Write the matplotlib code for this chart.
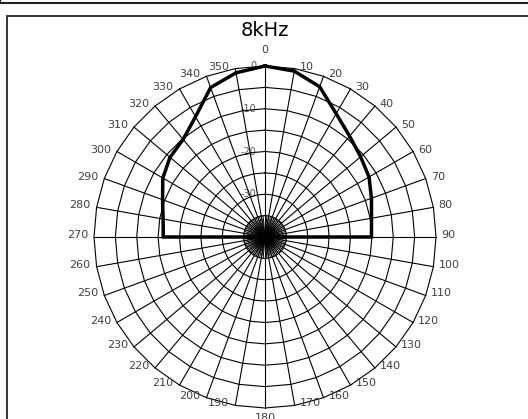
import numpy as np
import matplotlib
matplotlib.use('Agg')
import matplotlib.pyplot as plt
from matplotlib.patches import Rectangle

# directivity at 8kHz, dB, every 10 degrees (0 = front)
angles = list(range(0, 360, 10))
levels = [0, -0.6, -2.6, -6.7, -9.2, -10.8, -11.9, -13.5, -14.7, -15.1,
          -40, -40, -40, -40, -40, -40, -40, -40, -40,
          -40, -40, -40, -40, -40, -40, -40, -40,
          -16.2, -15.8, -14.5, -12.4, -11.0, -10.2, -7.5, -2.8, -1.0]
ring_levels = [-35, -30, -25, -20, -15, -10, -5, 0]
radial_labels = [0, -10, -20, -30]
title = '8kHz'

rmin = -40
W, H = 528, 419
px = 171 / 40.0          # pixels per dB
cx, cy = 265, 237        # centre in pixels from top-left

fig = plt.figure(figsize=(W / 100, H / 100), dpi=100)
ax = fig.add_axes([0, 0, 1, 1])
ax.set_xlim(-cx / px, (W - cx) / px)
ax.set_ylim(-(H - cy) / px, cy / px)
ax.axis('off')


def to_xy(theta_deg, db):
    r = np.clip(np.asarray(db, dtype=float) - rmin, 0, None)
    t = np.radians(theta_deg)
    return r * np.sin(t), r * np.cos(t)


# frames
fig.patches.append(Rectangle((0, H - 2.5), W + 5, 10, transform=None,
                             fill=False, lw=1.5, ec='#222222'))
fig.patches.append(Rectangle((6.5, -10), W + 10, H - 15.5 + 10, transform=None,
                             fill=False, lw=1.2, ec='#111111'))

# grid rings (polygons)
th = np.array(angles + [360])
for lv in ring_levels:
    x, y = to_xy(th, [lv] * len(th))
    ax.plot(x, y, color='black', lw=0.8, zorder=1)

# spokes
for a in angles:
    x, y = to_xy([a, a], [rmin, 0])
    ax.plot(x, y, color='black', lw=0.8, zorder=1)
for a in np.arange(0, 360, 5):
    x, y = to_xy([a, a], [rmin, -35])
    ax.plot(x, y, color='black', lw=0.7, zorder=1)

# angle labels, set just outside the outer ring
for a in angles:
    x, y = to_xy(a, 0)
    if a == 0:
        ax.text(x, y + 16 / px, str(a), fontsize=8, color='#404040',
                ha='center', va='center')
    elif a == 180:
        ax.text(x, y - 10 / px, str(a), fontsize=8, color='#404040',
                ha='center', va='center')
    elif a < 180:
        ax.text(x + 5 / px, y + 2 / px, str(a), fontsize=8, color='#404040',
                ha='left', va='center')
    else:
        ax.text(x - 6 / px, y + 2 / px, str(a), fontsize=8, color='#404040',
                ha='right', va='center')

# radial labels
for lv in radial_labels:
    x, y = to_xy(0, lv)
    ax.text(x - 2.0, y, str(lv), fontsize=7, color='#555555',
            ha='right', va='center', zorder=0)

# data
x, y = to_xy(th, levels + [levels[0]])
ax.plot(x, y, color='black', lw=2.5, zorder=3, solid_joinstyle='miter')

ax.text(0, (cy - 30) / px, title, fontsize=14, ha='center', va='center')

fig.savefig('out.png', dpi=100)
